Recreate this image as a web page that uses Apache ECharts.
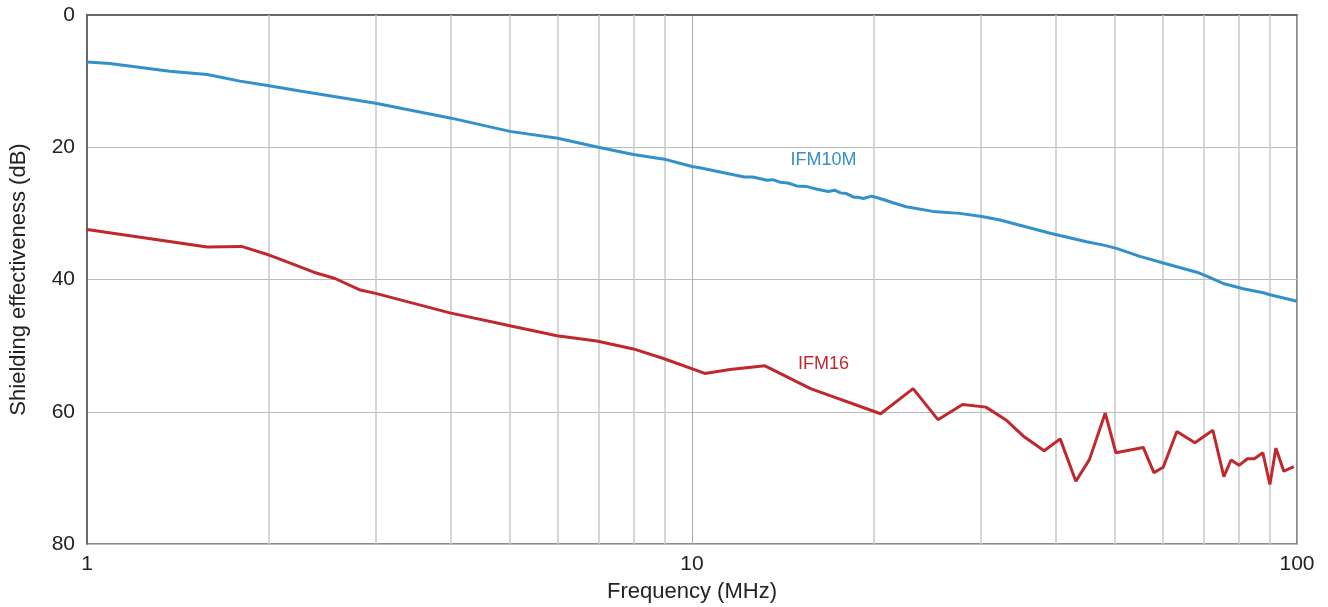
<!DOCTYPE html>
<html><head><meta charset="utf-8">
<script src="https://cdn.jsdelivr.net/npm/echarts@6/dist/echarts.min.js"></script>
<style>html,body{margin:0;padding:0;background:#fff}#c{width:1328px;height:607px}</style>
</head><body><div id="c"></div>
<script>
const blueFreq = [1.0,1.09,1.37,1.58,1.79,2.0,2.25,3.0,4.0,5.0,6.0,7.0,8.0,9.0,10.0,10.3,12.2,12.6,13.3,13.6,14.0,14.4,14.9,15.5,16.1,16.8,17.2,17.6,18.0,18.5,18.8,19.2,19.8,20.2,21.5,22.6,25.0,27.7,30.3,32.3,39.1,44.9,47.9,50.3,55.0,60.1,68.3,70.9,75.5,81.5,88.0,90.2,100];
const blueDb = [7.1,7.35,8.5,9.0,10.0,10.7,11.5,13.35,15.6,17.6,18.65,20.0,21.1,21.8,22.9,23.1,24.5,24.5,25.0,24.9,25.3,25.4,25.85,25.95,26.35,26.7,26.5,26.9,27.0,27.55,27.55,27.75,27.4,27.6,28.4,29.0,29.7,30.0,30.5,31.0,33.0,34.3,34.8,35.3,36.5,37.5,38.9,39.5,40.6,41.4,42.0,42.3,43.3];
const redFreq = [1.0,1.58,1.80,2.0,2.11,2.37,2.57,2.83,3.0,3.98,5.0,5.98,6.96,8.0,8.97,10.5,11.56,13.2,15.7,20.5,23.2,25.5,28.0,30.6,33.1,35.3,38.2,40.6,43.1,45.4,48.2,50.2,55.7,58.0,60.1,63.3,67.8,72.6,75.7,77.8,80.2,82.8,85.0,87.8,90.2,92.3,95.1,98.8];
const redDb = [32.45,35.1,35.0,36.3,37.1,38.9,39.85,41.6,42.1,45.05,47.0,48.5,49.3,50.5,51.95,54.2,53.6,53.05,56.5,60.3,56.5,61.2,58.9,59.3,61.3,63.7,65.9,64.1,70.5,67.2,60.2,66.2,65.4,69.2,68.4,63.0,64.7,62.8,69.8,67.3,68.1,67.1,67.1,66.2,71.0,65.5,69.0,68.3];
const xTicks = [1,10,100];
const yTicks = [0,20,40,60,80];
const minorGridFreq = [2,3,4,5,6,7,8,9,20,30,40,50,60,70,80,90];
const seriesNames = ['IFM10M','IFM16'];

const zip = (a,b)=>a.map((v,i)=>[v,b[i]]);
const chart = echarts.init(document.getElementById('c'));
const font = 'Liberation Sans, Arial, sans-serif';
chart.setOption({
  animation:false,
  grid:{left:87,right:31,top:15,bottom:63,outerBoundsMode:'none',containLabel:false,show:true,borderColor:'#666',borderWidth:1.5,backgroundColor:'transparent'},
  xAxis:{type:'log',logBase:10,min:1,max:100,
    name:'Frequency (MHz)',nameLocation:'middle',nameGap:37,
    nameTextStyle:{fontFamily:font,fontSize:22,color:'#222'},
    axisLine:{show:true,lineStyle:{color:'#555',width:1.5}},
    axisTick:{show:false},
    axisLabel:{fontFamily:font,fontSize:21,color:'#222',margin:10,formatter:v=>xTicks.includes(v)?String(v):''},
    splitLine:{show:true,lineStyle:{color:'#aaa',width:1}},
    minorTick:{show:false},minorSplitLine:{show:false}},
  yAxis:{type:'value',inverse:true,min:0,max:80,interval:20,
    name:'Shielding effectiveness (dB)',nameLocation:'middle',nameGap:57,
    nameTextStyle:{fontFamily:font,fontSize:22,color:'#222'},
    axisLine:{show:true,lineStyle:{color:'#555',width:1.5}},
    axisTick:{show:false},
    axisLabel:{fontFamily:font,fontSize:21,color:'#222',margin:12,formatter:v=>yTicks.includes(v)?String(v):''},
    splitLine:{show:true,lineStyle:{color:'#bbb',width:1}}},
  series:[
    {type:'line',name:'grid',data:[],silent:true,
      markLine:{silent:true,symbol:['none','none'],label:{show:false},
        lineStyle:{color:'#c8c8c8',width:1.5,type:'solid'},
        data:minorGridFreq.map(f=>({xAxis:f}))}},
    {type:'line',name:seriesNames[0],data:zip(blueFreq,blueDb),showSymbol:false,
      lineStyle:{color:'#3490cb',width:3},itemStyle:{color:'#3490cb'},z:5,
      markPoint:{symbol:'circle',symbolSize:0,silent:true,
        label:{show:true,position:'inside',formatter:seriesNames[0],fontFamily:font,fontSize:18,color:'#3490cb'},
        data:[{coord:[16.5,22.0]}]}},
    {type:'line',name:seriesNames[1],data:zip(redFreq,redDb),showSymbol:false,
      lineStyle:{color:'#c0282e',width:3},itemStyle:{color:'#c0282e'},z:5,
      markPoint:{symbol:'circle',symbolSize:0,silent:true,
        label:{show:true,position:'inside',formatter:seriesNames[1],fontFamily:font,fontSize:18,color:'#c0282e'},
        data:[{coord:[16.5,52.8]}]}}
  ]
});
</script></body></html>
